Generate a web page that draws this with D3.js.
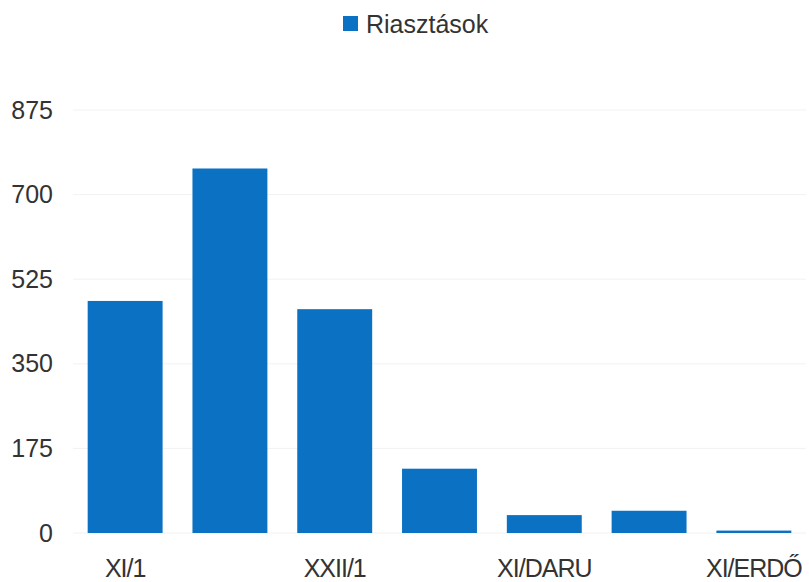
<!DOCTYPE html>
<html><head><meta charset="utf-8">
<script src="https://cdn.jsdelivr.net/npm/d3@7"></script>
<style>
html,body{margin:0;padding:0;background:#fff;}
text{font-family:"Liberation Sans",Arial,sans-serif;fill:#333;}
</style></head>
<body>
<svg id="chart" width="809" height="582"></svg>
<script>
const categories = ["XI/1","XI/2","XXII/1","XXII/2","XI/DARU","XI/3","XI/ERDŐ"];
const shownLabels = ["XI/1","XXII/1","XI/DARU","XI/ERDŐ"];
const values = [480, 754, 463, 133, 37, 46, 5];
const yTicks = [0, 175, 350, 525, 700, 875];
const seriesName = "Riasztások";

const svg = d3.select("#chart");
const color = "#0a71c3";
const x = d3.scaleBand().domain(categories).range([73, 806]).paddingInner(0.285).paddingOuter(0.14);
const y = d3.scaleLinear().domain([0, 875]).range([533, 110]);

// gridlines
svg.append("g").selectAll("line").data(yTicks).join("line")
  .attr("x1", 73).attr("x2", 806)
  .attr("y1", d => y(d)).attr("y2", d => y(d))
  .attr("stroke", "#f2f2f2").attr("stroke-width", 1);

// y axis labels
const yAxis = svg.append("g").attr("transform", "translate(53,0)")
  .call(d3.axisLeft(y).tickValues(yTicks).tickSize(0).tickPadding(0));
yAxis.select(".domain").remove();
yAxis.selectAll(".tick text").attr("font-size", 25).attr("fill", "#333")
  .attr("font-family", "Liberation Sans, Arial, sans-serif")
  .attr("text-anchor", "end").attr("x", 0);

// bars
svg.append("g").selectAll("rect").data(values).join("rect")
  .attr("x", (d,i) => x(categories[i]))
  .attr("width", x.bandwidth())
  .attr("y", d => y(d))
  .attr("height", d => y(0) - y(d))
  .attr("fill", color);

// x axis labels
const xAxis = svg.append("g").attr("transform", "translate(0,559)")
  .call(d3.axisBottom(x).tickSize(0).tickPadding(0)
    .tickFormat(d => shownLabels.includes(d) ? d : ""));
xAxis.select(".domain").remove();
xAxis.selectAll(".tick text").attr("font-size", 25).attr("fill", "#333")
  .attr("font-family", "Liberation Sans, Arial, sans-serif")
  .attr("letter-spacing", "-1px")
  .attr("dy", "0.71em");

// legend
const lg = svg.append("g");
lg.append("rect").attr("x", 343).attr("y", 16).attr("width", 15).attr("height", 15).attr("fill", color);
lg.append("text").attr("x", 366).attr("y", 24).attr("dy", "0.35em")
  .attr("font-size", 25).text(seriesName);
</script>
</body></html>
